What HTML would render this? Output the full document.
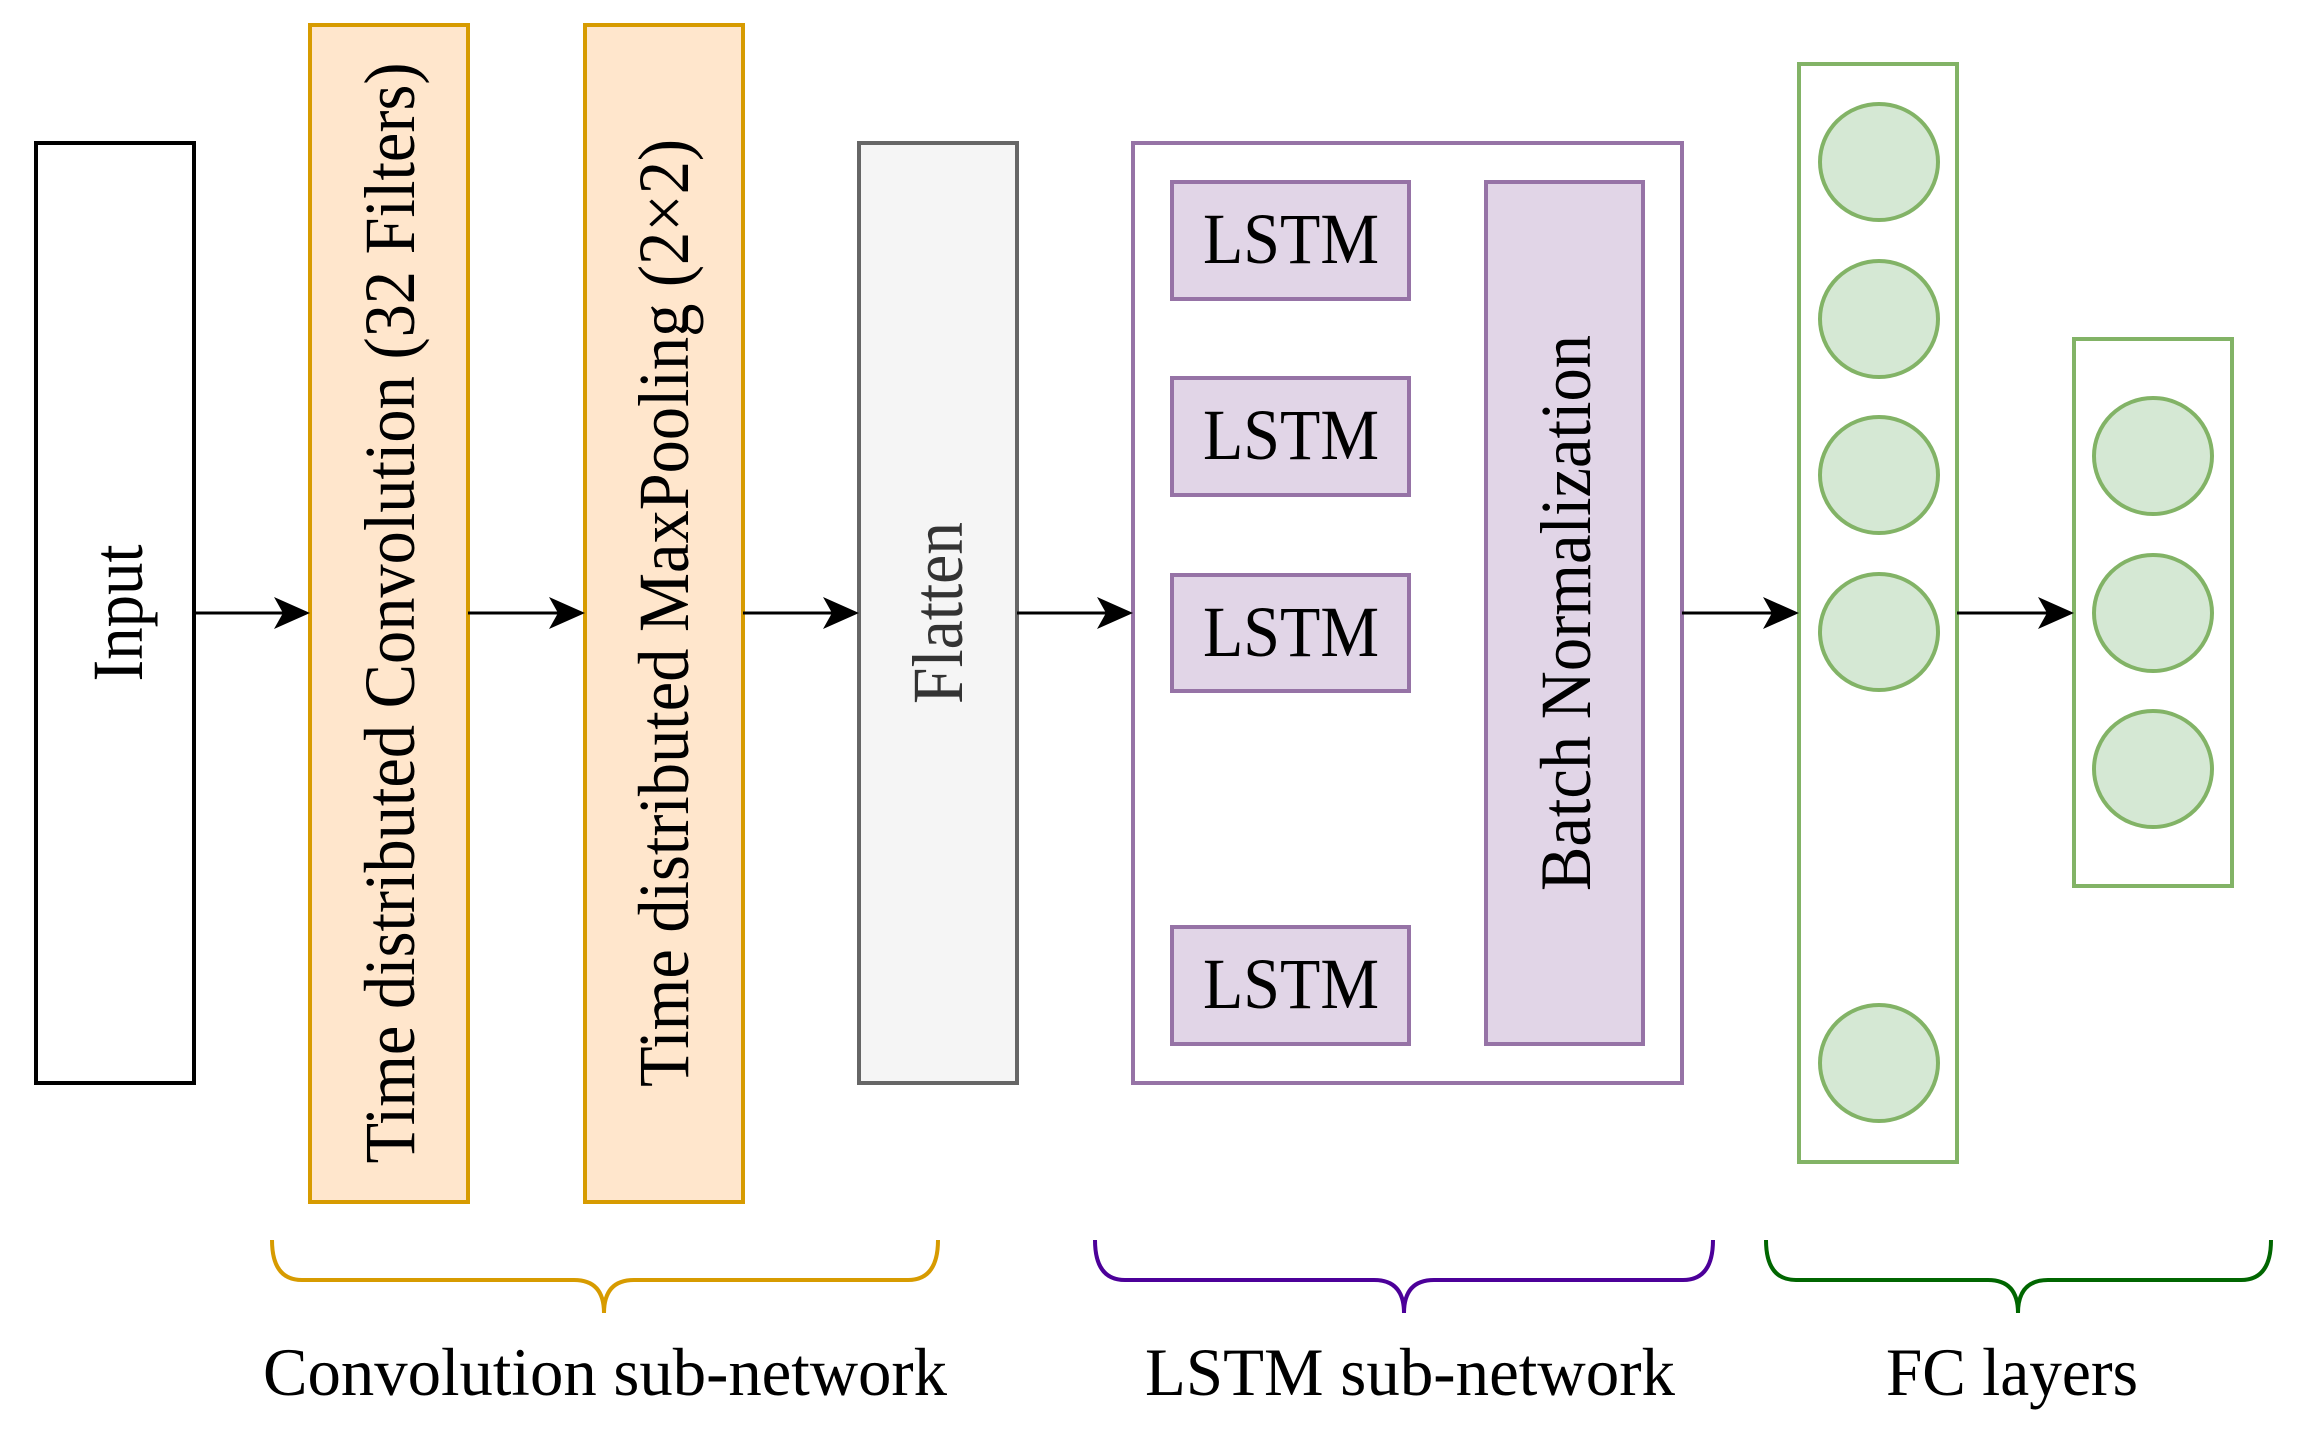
<!DOCTYPE html>
<html><head><meta charset="utf-8"><style>html,body{margin:0;padding:0;background:#fff}svg{display:block}</style></head>
<body>
<svg width="2306" height="1430" viewBox="0 0 2306 1430" xmlns="http://www.w3.org/2000/svg" font-family="'Liberation Serif', serif">
<g stroke-width="4">
<rect x="36" y="143" width="158" height="940" fill="#fff" stroke="#000"/>
<rect x="310" y="25" width="158" height="1177" fill="#ffe6cc" stroke="#d79b00"/>
<rect x="585" y="25" width="158" height="1177" fill="#ffe6cc" stroke="#d79b00"/>
<rect x="859" y="143" width="158" height="940" fill="#f5f5f5" stroke="#666"/>
<rect x="1133" y="143" width="549" height="940" fill="#fff" stroke="#9673a6"/>
<rect x="1172" y="182" width="237" height="117" fill="#e1d5e7" stroke="#9673a6"/>
<rect x="1172" y="378" width="237" height="117" fill="#e1d5e7" stroke="#9673a6"/>
<rect x="1172" y="575" width="237" height="116" fill="#e1d5e7" stroke="#9673a6"/>
<rect x="1172" y="927" width="237" height="117" fill="#e1d5e7" stroke="#9673a6"/>
<rect x="1486" y="182" width="157" height="862" fill="#e1d5e7" stroke="#9673a6"/>
<rect x="1799" y="64" width="158" height="1098" fill="#fff" stroke="#82b366"/>
<rect x="2074" y="339" width="158" height="547" fill="#fff" stroke="#82b366"/>
<g fill="#d5e8d4" stroke="#82b366">
<ellipse cx="1879" cy="162" rx="59" ry="58"/>
<ellipse cx="1879" cy="319" rx="59" ry="58"/>
<ellipse cx="1879" cy="475" rx="59" ry="58"/>
<ellipse cx="1879" cy="632" rx="59" ry="58"/>
<ellipse cx="1879" cy="1063" rx="59" ry="58"/>
<ellipse cx="2153" cy="456" rx="59" ry="58"/>
<ellipse cx="2153" cy="613" rx="59" ry="58"/>
<ellipse cx="2153" cy="769" rx="59" ry="58"/>
</g>
<g stroke="#000" fill="none" stroke-width="3">
<line x1="194" y1="613" x2="300" y2="613"/>
<line x1="468" y1="613" x2="575" y2="613"/>
<line x1="743" y1="613" x2="849" y2="613"/>
<line x1="1017" y1="613" x2="1123" y2="613"/>
<line x1="1682" y1="613" x2="1789" y2="613"/>
<line x1="1957" y1="613" x2="2064" y2="613"/>
</g>
<g fill="#000" stroke="none">
<path d="M310,613 l-36,-16 l9,16 l-9,16z"/>
<path d="M585,613 l-36,-16 l9,16 l-9,16z"/>
<path d="M859,613 l-36,-16 l9,16 l-9,16z"/>
<path d="M1133,613 l-36,-16 l9,16 l-9,16z"/>
<path d="M1799,613 l-36,-16 l9,16 l-9,16z"/>
<path d="M2074,613 l-36,-16 l9,16 l-9,16z"/>
</g>
<g fill="none">
<path d="M272,1240 q0,40 30,40 H574 q30,0 30,33 q0,-33 30,-33 H908 q30,0 30,-40" stroke="#d79b00"/>
<path d="M1095,1240 q0,40 30,40 H1374 q30,0 30,33 q0,-33 30,-33 H1683 q30,0 30,-40" stroke="#4c0099"/>
<path d="M1766,1240 q0,40 30,40 H1988 q30,0 30,33 q0,-33 30,-33 H2241 q30,0 30,-40" stroke="#006600"/>
</g>
</g>
<g fill="#000" font-size="72" dominant-baseline="central" text-anchor="middle">
<text transform="translate(118,613) rotate(-90)" textLength="137" lengthAdjust="spacingAndGlyphs">Input</text>
<text transform="translate(390,613) rotate(-90)" textLength="1101" lengthAdjust="spacingAndGlyphs">Time distributed Convolution (32 Filters)</text>
<text transform="translate(664,613) rotate(-90)" textLength="948" lengthAdjust="spacingAndGlyphs">Time distributed MaxPooling (2×2)</text>
<text transform="translate(938,613) rotate(-90)" textLength="182" lengthAdjust="spacingAndGlyphs" fill="#333">Flatten</text>
<text transform="translate(1566,613) rotate(-90)" textLength="556" lengthAdjust="spacingAndGlyphs">Batch Normalization</text>
</g>
<g fill="#000" font-size="72" text-anchor="middle">
<text x="1291" y="263" textLength="176" lengthAdjust="spacingAndGlyphs">LSTM</text>
<text x="1291" y="459" textLength="176" lengthAdjust="spacingAndGlyphs">LSTM</text>
<text x="1291" y="656" textLength="176" lengthAdjust="spacingAndGlyphs">LSTM</text>
<text x="1291" y="1008" textLength="176" lengthAdjust="spacingAndGlyphs">LSTM</text>
</g>
<g fill="#000" font-size="68" text-anchor="middle">
<text x="605" y="1395" textLength="684" lengthAdjust="spacingAndGlyphs">Convolution sub-network</text>
<text x="1410" y="1395" textLength="530" lengthAdjust="spacingAndGlyphs">LSTM sub-network</text>
<text x="2012" y="1395" textLength="252" lengthAdjust="spacingAndGlyphs">FC layers</text>
</g>
</svg>
</body></html>
